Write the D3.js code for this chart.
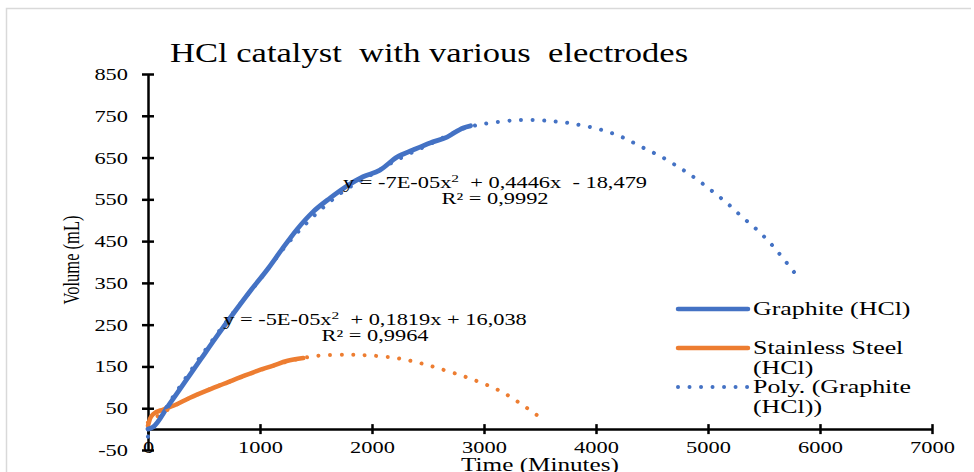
<!DOCTYPE html>
<html>
<head>
<meta charset="utf-8">
<script src="https://cdn.jsdelivr.net/npm/d3@7"></script>
<style>
  html, body { margin: 0; padding: 0; background: #fff; }
  svg { display: block; font-family: "Liberation Serif", "Times New Roman", serif; }
  text { fill: #000; white-space: pre; }
</style>
</head>
<body>
<svg id="chart" width="974" height="472"></svg>
<script>
// ---------- data ----------
const chartTitle = "HCl catalyst  with various  electrodes";
const xTitle = "Time (Minutes)";
const yTitle = "Volume (mL)";
const xTicks = [0, 1000, 2000, 3000, 4000, 5000, 6000, 7000];
const yTicks = [-50, 50, 150, 250, 350, 450, 550, 650, 750, 850];

// Graphite (HCl) measured data: [time, volume]
const graphiteTime   = [0, 45, 179, 330, 473, 625, 777, 920, 1071, 1200, 1330, 1473, 1625, 1777, 1920, 2071, 2223, 2366, 2518, 2670, 2813, 2880];
const graphiteVolume = [0, 5, 55, 113, 168, 226, 282, 333, 384, 432, 478, 520, 553, 582, 604, 620, 651, 668, 685, 699, 721, 726];

// Stainless Steel (HCl) measured data
const steelTime   = [0, 20, 47, 137, 226, 375, 524, 673, 821, 970, 1119, 1238, 1387];
const steelVolume = [8, 26, 36, 47, 56, 75, 92, 108, 124, 139, 152, 163, 170];

// Poly. trendline (Graphite)
const graphiteTrendTime   = [0, 250, 500, 750, 1000, 1250, 1500, 1750, 2000, 2250, 2500, 2750, 2875, 3321, 3652, 3857, 4054, 4232, 4411, 4589, 4750, 4884, 5036, 5170, 5304, 5438, 5554, 5661, 5768];
const graphiteTrendVolume = [-18, 88, 185, 275, 358, 445, 515, 570, 610, 648, 680, 712, 724, 740, 736, 728, 716, 699, 675, 651, 625, 601, 570, 541, 508, 477, 446, 412, 376];

// Poly. trendline (Stainless Steel)
const steelTrendTime   = [0, 250, 500, 750, 1000, 1250, 1500, 1800, 2000, 2223, 2402, 2600, 2866, 3161, 3470];
const steelTrendVolume = [16, 58, 90, 116, 141, 162, 175, 178, 176, 170, 160, 145, 122, 89, 34];

const eqGraphite = ["y = -7E-05x", "2", "  + 0,4446x  - 18,479"];
const r2Graphite = "R² = 0,9992";
const eqSteel = ["y = -5E-05x", "2", "  + 0,1819x + 16,038"];
const r2Steel = "R² = 0,9964";

const legendLabels = [["Graphite (HCl)"], ["Stainless Steel", "(HCl)"], ["Poly. (Graphite", "(HCl))"]];

// ---------- styles ----------
const BLUE = "#4472C4", ORANGE = "#ED7D31";
const SX = 1.4; // horizontal glyph stretch seen in the reference

const svg = d3.select("#chart");

// outer chart border (left + top)
svg.append("path")
  .attr("d", "M6.5,480 L6.5,8.5 L971,8.5")
  .attr("fill", "none").attr("stroke", "#d9d9d9").attr("stroke-width", 1.5);

const x = d3.scaleLinear().domain([0, 7000]).range([148, 932]);
const y = d3.scaleLinear().domain([-50, 850]).range([450, 74]);

function stext(parent, px, py, str, size, anchor, rot, sx) {
  const g = parent.append("g")
    .attr("transform", `translate(${px},${py}) scale(${sx || SX},1)` + (rot ? ` rotate(${rot})` : ""));
  return g.append("text").attr("text-anchor", anchor || "start")
    .attr("xml:space", "preserve")
    .style("font-size", size + "px").text(str);
}

// title
stext(svg, 170, 62, chartTitle, 27, "start", 0, 1.28);

// y axis
const yAxis = svg.append("g").attr("transform", `translate(${x(0)},0)`)
  .call(d3.axisLeft(y).tickValues(yTicks).tickSizeOuter(0).tickSizeInner(6).tickFormat(d => String(d)));
yAxis.attr("font-family", null).attr("font-size", null);
yAxis.select(".domain").attr("stroke", "#000").attr("stroke-width", 2.5);
yAxis.selectAll(".tick line").attr("x1", -6).attr("x2", 6).attr("stroke", "#000").attr("stroke-width", 2.5);
yAxis.selectAll(".tick text")
  .attr("x", 0).attr("dy", null).attr("y", 5.5)
  .attr("text-anchor", "end")
  .attr("transform", `translate(-20,0) scale(${SX},1)`)
  .style("font-size", "16px").attr("fill", "#000");

// x axis at y = 0
const xAxis = svg.append("g").attr("transform", `translate(0,${y(0)})`)
  .call(d3.axisBottom(x).tickValues(xTicks).tickSizeOuter(0).tickSizeInner(5).tickFormat(d => String(d)));
xAxis.attr("font-family", null).attr("font-size", null);
xAxis.select(".domain").attr("stroke", "#000").attr("stroke-width", 2.5);
xAxis.selectAll(".tick line").attr("y1", -5).attr("y2", 5).attr("stroke", "#000").attr("stroke-width", 2.5);
xAxis.selectAll(".tick text")
  .attr("y", 0).attr("dy", null)
  .attr("text-anchor", "middle")
  .attr("transform", `translate(0,24) scale(${SX},1)`)
  .style("font-size", "16px").attr("fill", "#000");

// axis titles
stext(svg, 540, 471, xTitle, 18, "middle");
stext(svg, 79, 260, yTitle, 16.5, "middle", -90);

// ---------- series ----------
const line = d3.line().x(d => x(d[0])).y(d => y(d[1])).curve(d3.curveMonotoneX);
const zip = (a, b) => a.map((v, i) => [v, b[i]]);

const plot = svg.append("g");
plot.append("path").datum(zip(steelTime, steelVolume))
  .attr("d", line).attr("fill", "none").attr("stroke", ORANGE)
  .attr("stroke-width", 4.5).attr("stroke-linejoin", "round").attr("stroke-linecap", "round");
plot.append("path").datum(zip(graphiteTime, graphiteVolume))
  .attr("d", line).attr("fill", "none").attr("stroke", BLUE)
  .attr("stroke-width", 4.8).attr("stroke-linejoin", "round").attr("stroke-linecap", "round");

const trend = d3.line().x(d => x(d[0])).y(d => y(d[1])).curve(d3.curveCatmullRom);
function dotted(path) {
  // spacing chosen so that a dot falls on both ends of the trendline
  const L = path.node().getTotalLength();
  const n = Math.round(L / 11.5);
  const gap = (L - 0.3) / n;
  path.attr("stroke-dasharray", `0.01 ${(gap - 0.01).toFixed(4)}`);
}
plot.append("path").datum(zip(steelTrendTime, steelTrendVolume))
  .attr("d", trend).attr("fill", "none").attr("stroke", ORANGE)
  .attr("stroke-width", 4).attr("stroke-linecap", "round").call(dotted);
plot.append("path").datum(zip(graphiteTrendTime, graphiteTrendVolume))
  .attr("d", trend).attr("fill", "none").attr("stroke", BLUE)
  .attr("stroke-width", 4).attr("stroke-linecap", "round").call(dotted);

// ---------- trendline equations ----------
function equation(cx, by, parts, r2) {
  const t = stext(svg, cx, by, "", 16, "middle");
  t.append("tspan").text(parts[0]);
  t.append("tspan").attr("baseline-shift", "super").style("font-size", "11px").text(parts[1]);
  t.append("tspan").text(parts[2]);
  stext(svg, cx, by + 16, r2, 16, "middle");
}
equation(495, 188, eqGraphite, r2Graphite);
equation(375, 325, eqSteel, r2Steel);

// ---------- legend ----------
const leg = svg.append("g");
const legY = [309, 348, 387];
const legColors = [BLUE, ORANGE, BLUE];
const legDash = [null, null, "0.01 11.5"];
legY.forEach((ly, i) => {
  leg.append("line").attr("x1", 678).attr("x2", 748).attr("y1", ly).attr("y2", ly)
    .attr("stroke", legColors[i]).attr("stroke-width", legDash[i] ? 4 : 4.5)
    .attr("stroke-linecap", "round").attr("stroke-dasharray", legDash[i]);
  legendLabels[i].forEach((s, j) => {
    stext(leg, 753, ly + 6 + j * 19.5, s, 18.5, "start");
  });
});
</script>
</body>
</html>
